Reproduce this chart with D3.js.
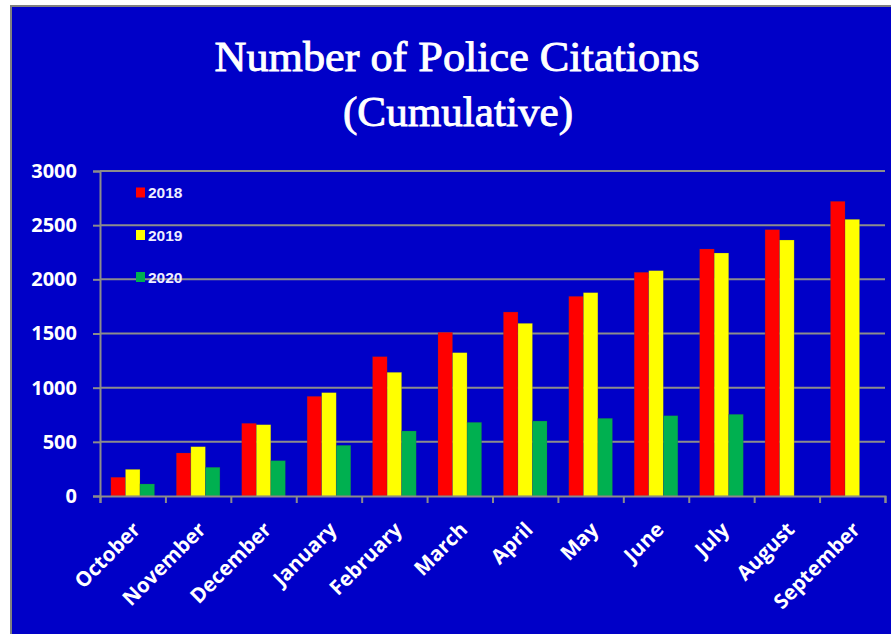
<!DOCTYPE html>
<html>
<head>
<meta charset="utf-8">
<script src="https://cdn.jsdelivr.net/npm/d3@7"></script>
<style>
  html, body { margin: 0; padding: 0; background: #ffffff; }
  svg { display: block; }
</style>
</head>
<body>
<svg id="chart" width="891" height="634"></svg>
<script>
const months = ["October","November","December","January","February","March","April","May","June","July","August","September"];
const seriesNames = ["2018","2019","2020"];
const values2018 = [173, 397, 671, 920, 1286, 1511, 1698, 1843, 2065, 2280, 2458, 2720];
const values2019 = [246, 455, 658, 954, 1142, 1323, 1594, 1877, 2080, 2243, 2363, 2554];
const values2020 = [111, 265, 326, 468, 600, 680, 692, 717, 741, 754, null, null];
const yTicks = [0, 500, 1000, 1500, 2000, 2500, 3000];
const colors = ["#ff0000", "#ffff00", "#00b050"];
const titleLines = ["Number of Police Citations", "(Cumulative)"];

(function () {
const seriesValues = [values2018, values2019, values2020];
const svg = d3.select("#chart");
const W = 891, H = 634;
const bg = "#0000c8";
const gridColor = "#8c8c8c";

// panel
svg.append("rect").attr("x", 11).attr("y", 6).attr("width", W).attr("height", H)
  .attr("fill", bg).attr("stroke", "#808080").attr("stroke-width", 2);

// title
const titleG = svg.append("g");
titleG.append("text").attr("x", 457).attr("y", 71).attr("text-anchor", "middle")
  .attr("font-family", "'Liberation Serif', 'DejaVu Serif', serif").attr("font-weight", "normal")
  .attr("font-size", 42).attr("fill", "#ffffff").attr("stroke", "#ffffff").attr("stroke-width", 0.9)
  .attr("textLength", 485).attr("lengthAdjust", "spacingAndGlyphs")
  .text(titleLines[0]);
titleG.append("text").attr("x", 458).attr("y", 126).attr("text-anchor", "middle")
  .attr("font-family", "'Liberation Serif', 'DejaVu Serif', serif").attr("font-weight", "normal")
  .attr("font-size", 42).attr("fill", "#ffffff").attr("stroke", "#ffffff").attr("stroke-width", 0.9)
  .attr("textLength", 230).attr("lengthAdjust", "spacingAndGlyphs")
  .text(titleLines[1]);

// scales
const pLeft = 100, pRight = 885, pTop = 171, pBottom = 496;
const x0 = d3.scaleBand().domain(months).range([pLeft, pRight]).padding(0);
const bw = x0.bandwidth();
const x1 = d3.scaleBand().domain(seriesNames).range([bw / 6, bw * 5 / 6]).padding(0);
const y = d3.scaleLinear().domain([0, 3000]).range([pBottom, pTop]);

// gridlines
svg.append("g").selectAll("line").data(yTicks.filter(d => d > 0)).join("line")
  .attr("x1", pLeft).attr("x2", pRight)
  .attr("y1", d => y(d)).attr("y2", d => y(d))
  .attr("stroke", gridColor).attr("stroke-width", 2);

// bars
const barData = [];
months.forEach((m, i) => {
  seriesNames.forEach((s, j) => {
    const v = seriesValues[j][i];
    if (v != null) barData.push({ m, s, v, j });
  });
});
svg.append("g").selectAll("rect").data(barData).join("rect")
  .attr("x", d => x0(d.m) + x1(d.s))
  .attr("y", d => y(d.v))
  .attr("width", x1.bandwidth())
  .attr("height", d => y(0) - y(d.v))
  .attr("fill", d => colors[d.j])
  .attr("stroke", "rgba(60,60,90,0.35)").attr("stroke-width", 0.6);

// y axis
const yAxis = d3.axisLeft(y).tickValues(yTicks).tickSize(7).tickPadding(16).tickFormat(d3.format("d"));
const yg = svg.append("g").attr("transform", `translate(${pLeft},0)`).call(yAxis);
yg.select(".domain").attr("stroke", gridColor).attr("stroke-width", 2);
yg.selectAll(".tick line").attr("stroke", gridColor).attr("stroke-width", 2);
yg.selectAll(".tick text").attr("fill", "#ffffff")
  .attr("font-family", "'Open Sans', 'Liberation Sans', sans-serif").attr("font-weight", "bold")
  .attr("font-size", 20);

// x axis ticks at band edges
const xEdge = d3.scaleLinear().domain([0, months.length]).range([pLeft, pRight]);
const xg = svg.append("g").attr("transform", `translate(0,${pBottom})`)
  .call(d3.axisBottom(xEdge).tickValues(d3.range(months.length + 1)).tickSize(7).tickFormat(""));
xg.select(".domain").attr("stroke", gridColor).attr("stroke-width", 2);
xg.selectAll(".tick line").attr("stroke", gridColor).attr("stroke-width", 2);

// x labels
svg.append("g").selectAll("text").data(months).join("text")
  .attr("transform", d => `translate(${x0(d) + bw / 2 + 9},531) rotate(-45)`)
  .attr("text-anchor", "end")
  .attr("fill", "#ffffff")
  .attr("font-family", "'Open Sans', 'Liberation Sans', sans-serif").attr("font-weight", "bold")
  .attr("font-size", 20.5)
  .text(d => d);

// legend
const legendY = [192.5, 235, 277];
const lg = svg.append("g");
seriesNames.forEach((s, j) => {
  lg.append("rect").attr("x", 136).attr("y", legendY[j] - 5).attr("width", 9).attr("height", 10)
    .attr("fill", colors[j]);
  lg.append("text").attr("x", 148).attr("y", legendY[j]).attr("dy", "0.36em")
    .attr("fill", "#eeeeff")
    .attr("font-family", "'Liberation Sans', Arial, sans-serif").attr("font-weight", "bold")
    .attr("font-size", 15.5)
    .text(s);
});
})();
</script>
</body>
</html>
